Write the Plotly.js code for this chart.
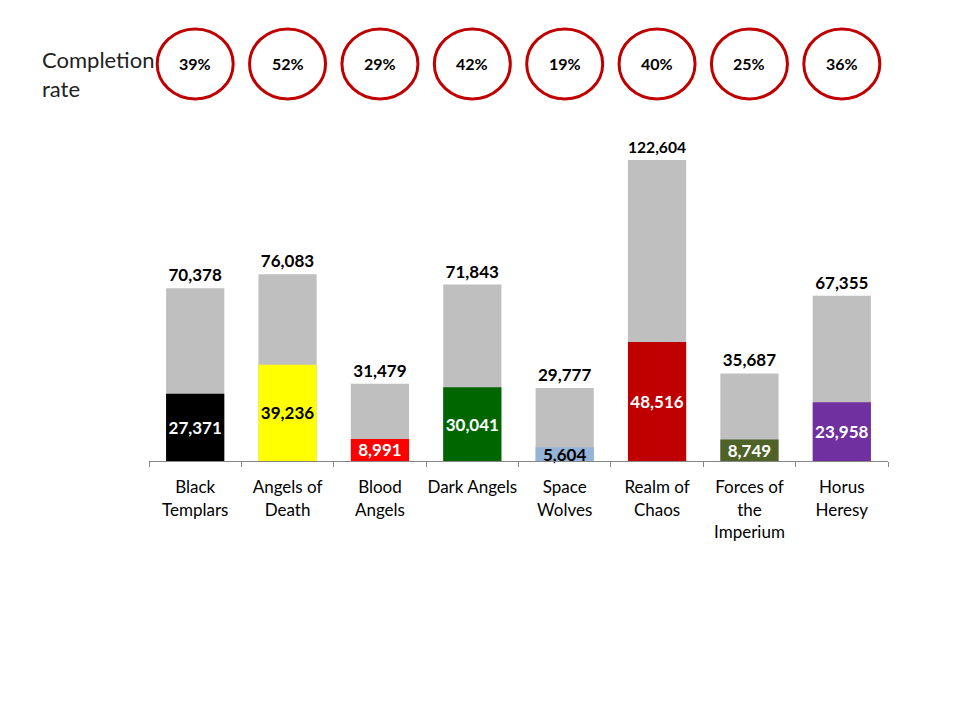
<!DOCTYPE html>
<html>
<head>
<meta charset="utf-8">
<script src="https://cdn.plot.ly/plotly-3.0.1.min.js"></script>
<style>
  html, body { margin: 0; padding: 0; background: #fff; }
  #chart { width: 960px; height: 720px; }
</style>
</head>
<body>
<div id="chart"></div>
<script>
// chart data
var categories = ['Black<br>Templars', 'Angels of<br>Death', 'Blood<br>Angels', 'Dark Angels',
                  'Space<br>Wolves', 'Realm of<br>Chaos', 'Forces of<br>the<br>Imperium', 'Horus<br>Heresy'];
var totals = [70378, 76083, 31479, 71843, 29777, 122604, 35687, 67355];
var completed = [27371, 39236, 8991, 30041, 5604, 48516, 8749, 23958];
var rates = ['39%', '52%', '29%', '42%', '19%', '40%', '25%', '36%'];

var barColors = ['#000000', '#FFFF00', '#FF0000', '#006600', '#95B3D7', '#C00000', '#4F6228', '#7030A0'];
var textColors = ['#FFFFFF', '#000000', '#FFFFFF', '#FFFFFF', '#000000', '#FFFFFF', '#FFFFFF', '#FFFFFF'];

var FONT = 'Lato, "Open Sans", sans-serif';

function fmt(v) { return v.toLocaleString('en-US'); }

document.addEventListener("DOMContentLoaded", function () {

    var totalTrace = {
        x: categories,
        y: totals,
        type: 'bar',
        marker: { color: '#BFBFBF' },
        width: 0.63,
        text: totals.map(fmt),
        textposition: 'outside',
        textangle: 0,
        textfont: { family: FONT, size: 17, color: '#000', weight: 'bold' },
        cliponaxis: false,
        hoverinfo: 'none'
    };

    var doneTrace = {
        x: categories,
        y: completed,
        type: 'bar',
        marker: { color: barColors },
        width: 0.63,
        text: completed.map(fmt),
        textposition: 'inside',
        insidetextanchor: 'middle',
        textangle: 0,
        constraintext: 'none',
        textfont: { family: FONT, size: 17, color: textColors, weight: 'bold' },
        cliponaxis: false,
        hoverinfo: 'none'
    };

    // circles with completion rates above each column
    var shapes = [];
    var annotations = [];
    categories.forEach(function (c, i) {
        shapes.push({
            type: 'circle',
            xref: 'x', yref: 'paper',
            xsizemode: 'pixel', ysizemode: 'pixel',
            xanchor: i, yanchor: 1.237,
            x0: -38, x1: 38, y0: -35, y1: 35,
            line: { color: '#C00000', width: 3 },
            fillcolor: 'rgba(0,0,0,0)'
        });
        annotations.push({
            xref: 'x', yref: 'paper',
            x: i, y: 1.237,
            xanchor: 'center', yanchor: 'middle',
            text: '<b>' + rates[i] + '</b>',
            showarrow: false,
            font: { family: FONT, size: 16, color: '#000' }
        });
    });

    annotations.push({
        xref: 'paper', yref: 'paper',
        x: -0.148, y: 1.206,
        xanchor: 'left', yanchor: 'middle', align: 'left',
        text: 'Completion<br>rate',
        showarrow: false,
        font: { family: FONT, size: 22, color: '#222' }
    });

    Plotly.newPlot("chart", [totalTrace, doneTrace], {
        width: 960,
        height: 720,
        barmode: 'overlay',
        showlegend: false,
        paper_bgcolor: '#fff',
        plot_bgcolor: '#fff',
        margin: { l: 149, r: 72, t: 140, b: 259 },
        xaxis: {
            type: 'category',
            range: [-0.5, 7.5],
            showline: true,
            linecolor: '#868686',
            linewidth: 1,
            ticks: 'outside',
            tickson: 'boundaries',
            ticklen: 5,
            tickcolor: '#868686',
            tickangle: 0,
            ticklabelstandoff: 11,
            tickfont: { family: FONT, size: 17, color: '#000' },
            showgrid: false,
            fixedrange: true
        },
        yaxis: {
            range: [0, 130750],
            visible: false,
            showgrid: false,
            zeroline: false,
            fixedrange: true
        },
        shapes: shapes,
        annotations: annotations
    }, { staticPlot: true });
});
</script>
</body>
</html>
